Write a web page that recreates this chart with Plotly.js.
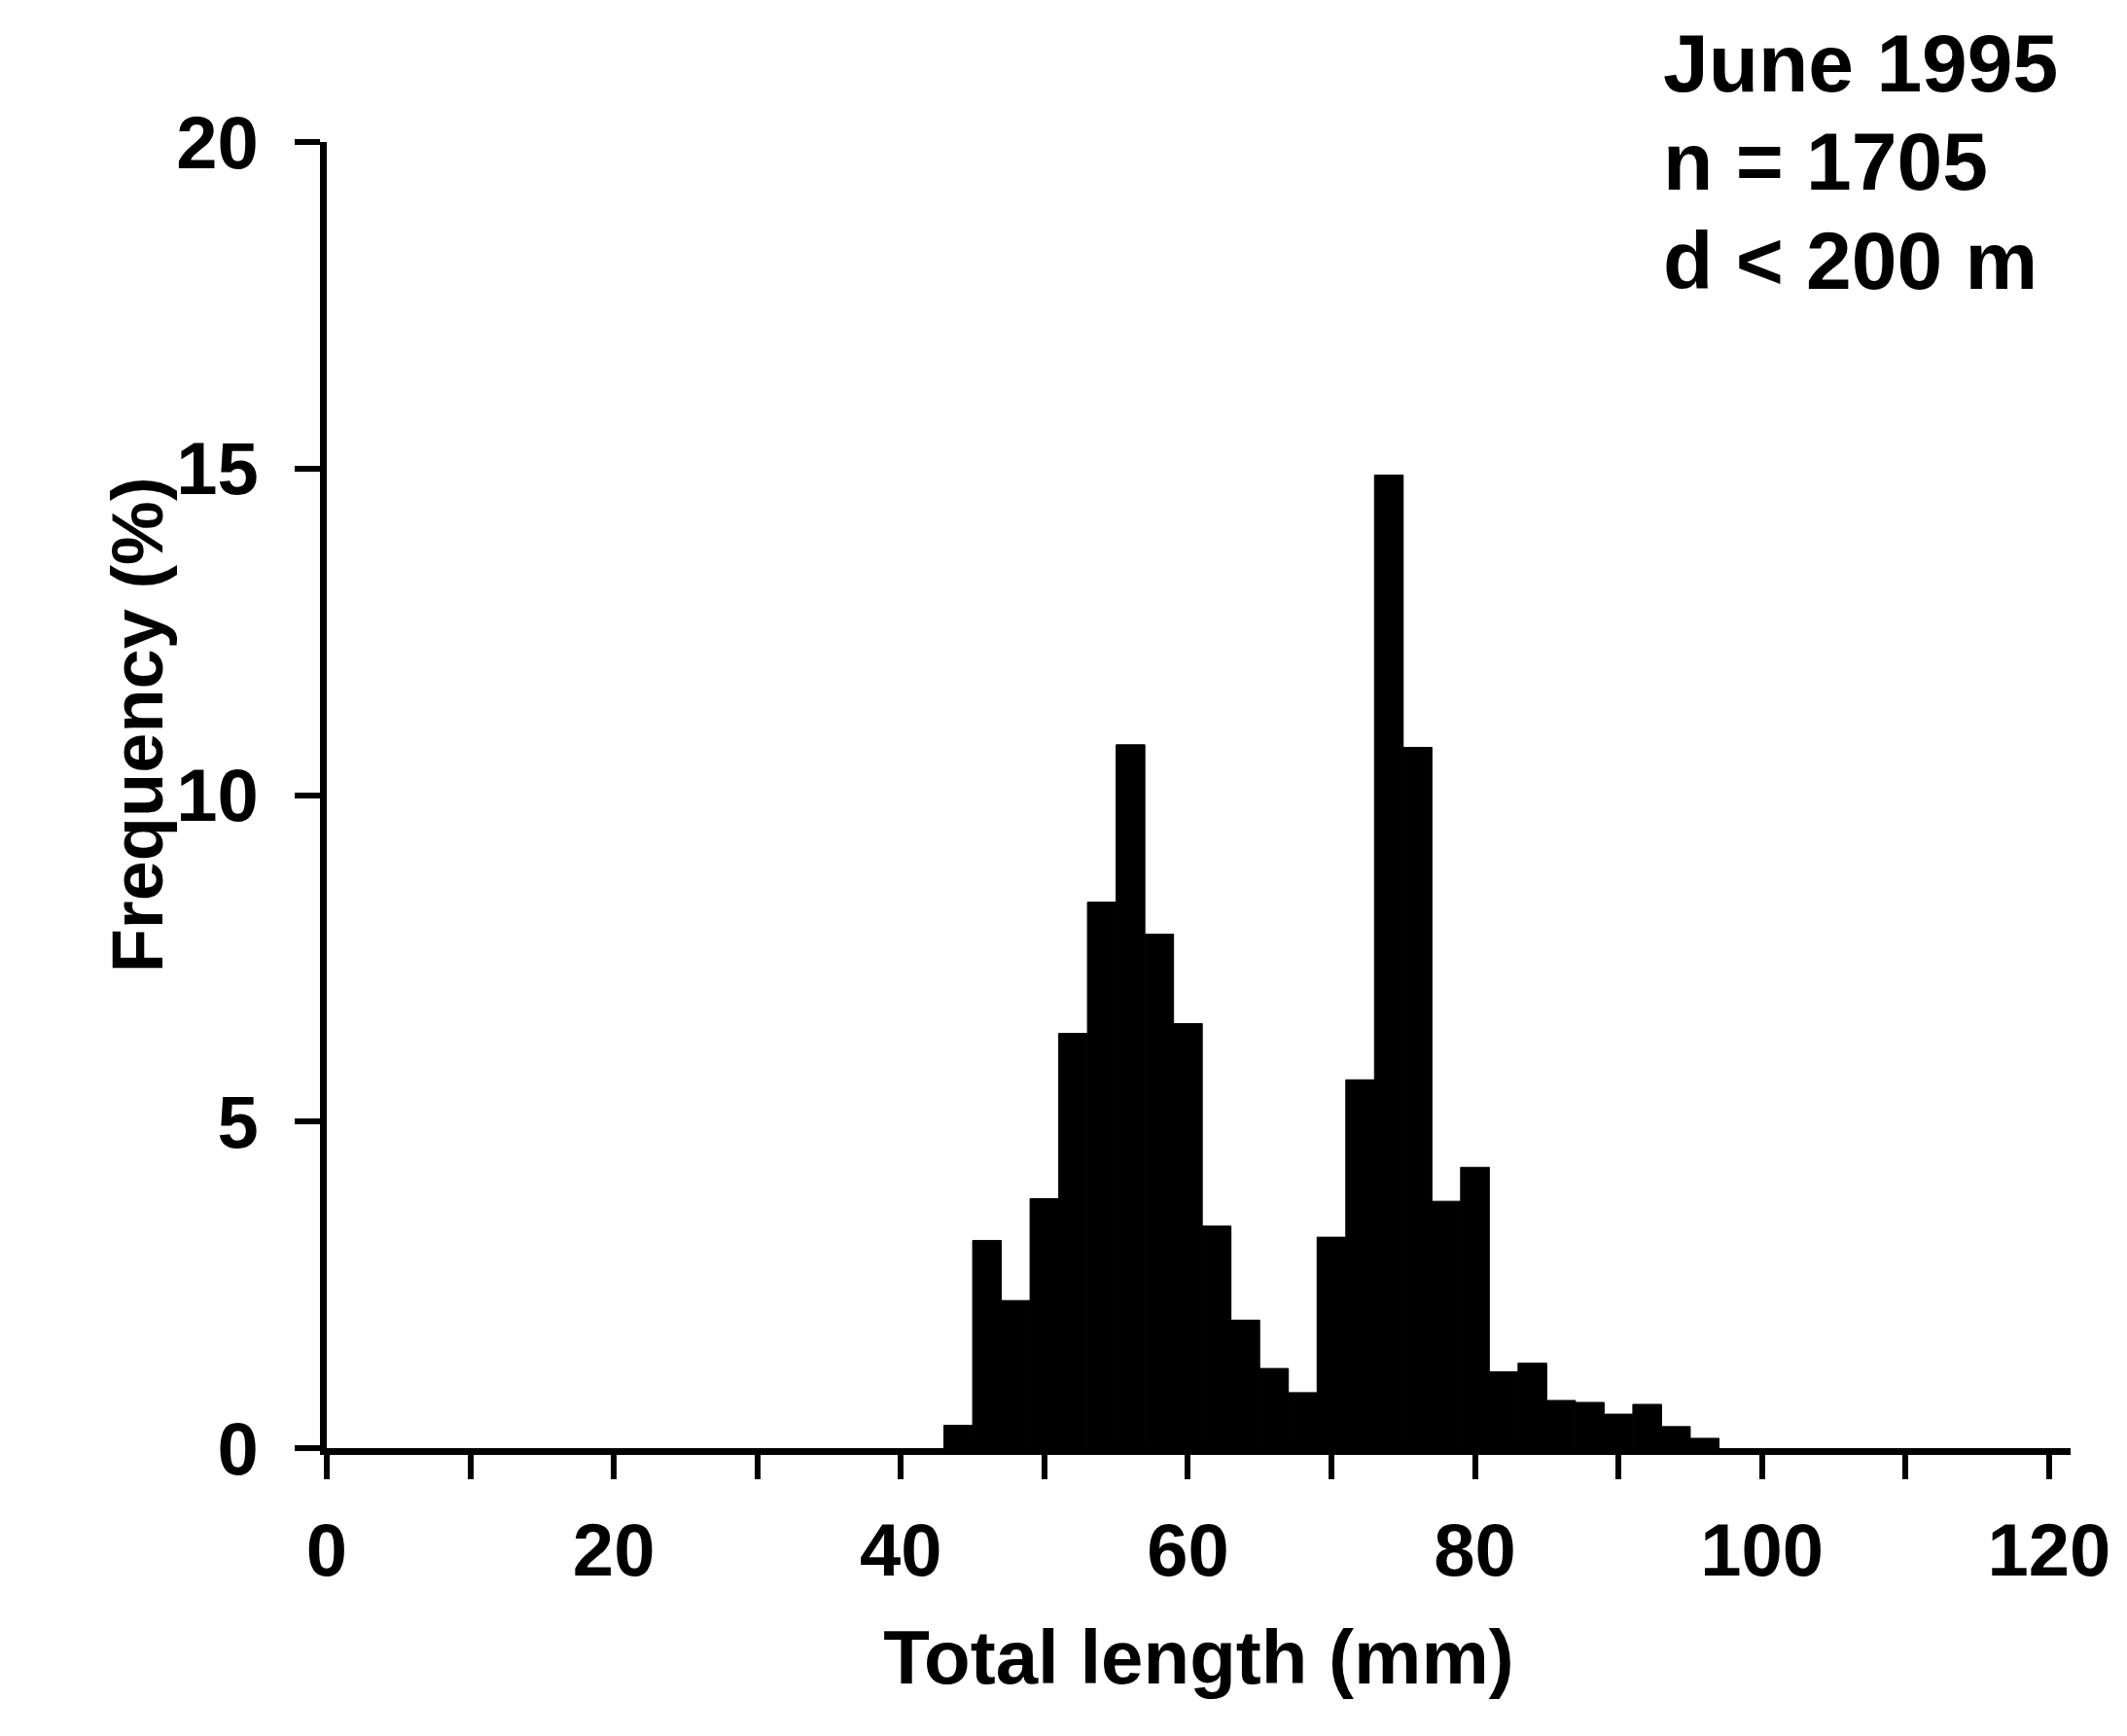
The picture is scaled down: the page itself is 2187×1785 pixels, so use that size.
<!DOCTYPE html>
<html>
<head>
<meta charset="utf-8">
<script src="https://cdn.plot.ly/plotly-3.0.1.min.js"></script>
<style>html,body{margin:0;padding:0;background:#ffffff;}</style>
</head>
<body>
<div id="chart" style="width:2187px;height:1785px;"></div>
<script>
// Bin centres (mm), 2 mm wide bins
const binCenters = [44, 46, 48, 50, 52, 54, 56, 58, 60, 62, 64, 66, 68, 70, 72, 74, 76, 78, 80, 82, 84, 86, 88, 90, 92, 94, 96];
// Frequency (%)
const frequency = [0.35, 3.18, 2.26, 3.82, 6.35, 8.36, 10.77, 7.87, 6.5, 3.4, 1.96, 1.22, 0.85, 3.23, 5.64, 14.9, 10.73, 3.78, 4.3, 1.17, 1.3, 0.73, 0.7, 0.52, 0.67, 0.33, 0.15];

const xTickVals = [0, 20, 40, 60, 80, 100, 120];
const xTickText = ['0', '20', '40', '60', '80', '100', '120'];
const yTickVals = [0, 5, 10, 15, 20];
const yTickText = ['0', '5', '10', '15', '20'];

const infoLines = ['June 1995', 'n = 1705', 'd &lt; 200 m'];
const xTitle = 'Total length (mm)';
const yTitle = 'Frequency (%)';

const fontFam = '"Liberation Sans", Arial, Helvetica, sans-serif';
const black = '#000000';

const trace = {
  type: 'bar',
  x: binCenters,
  y: frequency,
  width: 2,
  marker: {color: black, line: {color: black, width: 1}},
  hoverinfo: 'x+y'
};

const infoY = [1.060, 0.985, 0.909];
const annotations = infoLines.map((t, i) => ({
  text: t, xref: 'paper', yref: 'paper', x: 0.765, y: infoY[i],
  xanchor: 'left', yanchor: 'middle', showarrow: false,
  font: {family: fontFam, size: 84, color: black, weight: 'bold'}
}));
annotations.push({
  text: yTitle, xref: 'paper', yref: 'paper', x: -0.108, y: 0.554,
  xanchor: 'center', yanchor: 'middle', textangle: -90, showarrow: false,
  font: {family: fontFam, size: 74, color: black, weight: 'bold'}
});

const layout = {
  width: 2187, height: 1785,
  margin: {l: 336, r: 58, t: 146, b: 296, pad: 0},
  paper_bgcolor: '#ffffff', plot_bgcolor: '#ffffff',
  showlegend: false,
  bargap: 0,
  font: {family: fontFam, size: 76, color: black, weight: 'bold'},
  xaxis: {
    range: [0, 121.5],
    tickmode: 'array', tickvals: xTickVals, ticktext: xTickText,
    ticks: 'outside', ticklen: 25, tickwidth: 6, tickcolor: black,
    minor: {dtick: 10, tick0: 0, ticks: 'outside', ticklen: 25, tickwidth: 6, tickcolor: black, showgrid: false},
    showline: true, linewidth: 7, linecolor: black,
    showgrid: false, zeroline: false,
    tickfont: {family: fontFam, size: 76, color: black, weight: 'bold'},
    ticklabelstandoff: 8,
    title: {text: xTitle, standoff: 44, font: {family: fontFam, size: 78, color: black, weight: 'bold'}},
    automargin: false
  },
  yaxis: {
    range: [0, 20],
    tickmode: 'array', tickvals: yTickVals, ticktext: yTickText,
    ticks: 'outside', ticklen: 26, tickwidth: 6, tickcolor: black,
    showline: true, linewidth: 7, linecolor: black,
    showgrid: false, zeroline: false,
    tickfont: {family: fontFam, size: 76, color: black, weight: 'bold'},
    ticklabelstandoff: 22,
    automargin: false
  },
  annotations: annotations
};

Plotly.newPlot('chart', [trace], layout, {staticPlot: true, displayModeBar: false});
</script>
</body>
</html>
